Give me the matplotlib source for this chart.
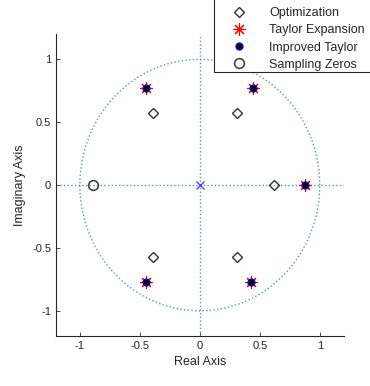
import numpy as np
import matplotlib
matplotlib.use('Agg')
import matplotlib.pyplot as plt
from matplotlib.patches import Rectangle

plt.rcParams['font.family'] = ['Liberation Sans', 'DejaVu Sans']

# pole/zero locations
opt_re = [0.31, -0.39, 0.62, -0.39, 0.31]
opt_im = [0.57, 0.57, 0.0, -0.57, -0.57]
taylor_re = [0.44, -0.45, 0.88, -0.45, 0.43]
taylor_im = [0.77, 0.77, 0.0, -0.77, -0.77]
improved_re = [0.44, -0.45, 0.88, -0.45, 0.43]
improved_im = [0.77, 0.77, 0.0, -0.77, -0.77]
samp_re = [-0.89]
samp_im = [0.0]
pole_re = [0.0]
pole_im = [0.0]

grid_col = '#4a9ad4'
txt_col = '#262626'

fig = plt.figure(figsize=(3.7, 3.86), dpi=100)
ax = fig.add_axes([0.151, 0.1295, 0.778, 0.782])

t = np.linspace(0, 2 * np.pi, 400)
ax.plot(np.cos(t), np.sin(t), ':', color=grid_col, lw=1.0)
ax.axhline(0, ls=':', color=grid_col, lw=1.0)
ax.axvline(0, ls=':', color=grid_col, lw=1.0)

ax.plot(pole_re, pole_im, 'x', color='#3a3aff', ms=6, mew=0.9)
h1, = ax.plot(opt_re, opt_im, 'D', ls='none', mfc='none', mec='#333333',
              ms=5.5, mew=1.0, label='Optimization')
h2, = ax.plot(taylor_re, taylor_im, marker=(8, 2, 0), ls='none', color='red',
              ms=9, mew=0.8, label='Taylor Expansion')
h3, = ax.plot(improved_re, improved_im, 'o', ls='none', mfc='k', mec='#1010c0',
              ms=5, mew=1.0, label='Improved Taylor')
h4, = ax.plot(samp_re, samp_im, 'o', ls='none', mfc='none', mec='#444444',
              ms=7, mew=1.2, label='Sampling Zeros')

ax.set_xlim(-1.2, 1.2)
ax.set_ylim(-1.2, 1.2)
ax.set_xticks([-1, -0.5, 0, 0.5, 1])
ax.set_yticks([-1, -0.5, 0, 0.5, 1])
ax.set_xticklabels(['-1', '-0.5', '0', '0.5', '1'])
ax.set_yticklabels(['-1', '-0.5', '0', '0.5', '1'])
ax.spines['top'].set_visible(False)
ax.spines['right'].set_visible(False)
for s in ['left', 'bottom']:
    ax.spines[s].set_color(txt_col)
    ax.spines[s].set_linewidth(0.8)
ax.tick_params(direction='in', length=3, labelsize=8, colors=txt_col, width=0.6)
ax.set_xlabel('Real Axis', fontsize=9, color=txt_col)
ax.set_ylabel('Imaginary Axis', fontsize=9, color=txt_col)

# legend box runs off the top/right edge of the figure, as in the original
box = Rectangle((214 / 370, (386 - 72) / 386), 0.5, 0.5, transform=fig.transFigure,
                facecolor='white', edgecolor=txt_col, lw=0.8, zorder=2)
fig.patches.append(box)

leg = fig.legend(handles=[h1, h2, h3, h4], loc='lower left',
                 bbox_to_anchor=(214 / 370, (386 - 72) / 386),
                 fontsize=9, frameon=False, borderaxespad=0,
                 handlelength=3.8, handletextpad=0.5, labelspacing=0.42,
                 borderpad=0.1)
leg.set_zorder(3)
for tx in leg.get_texts():
    tx.set_color(txt_col)

fig.savefig('out.png', dpi=100)
